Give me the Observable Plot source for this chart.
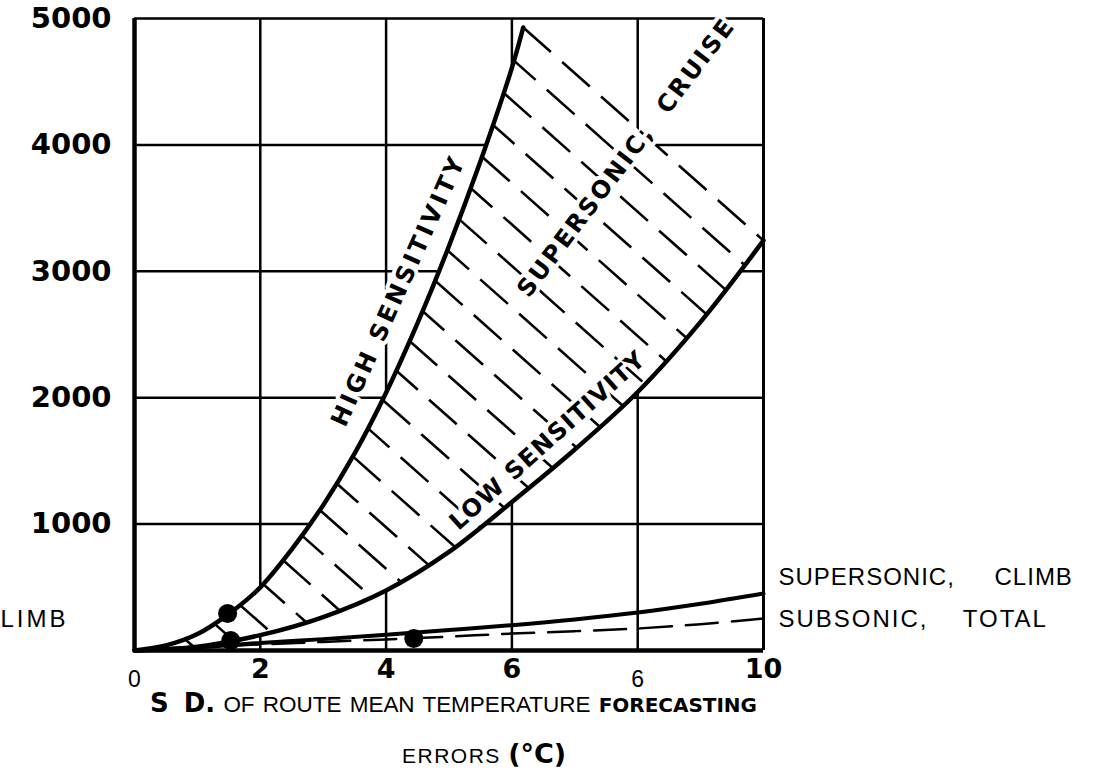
<!DOCTYPE html>
<html><head><meta charset="utf-8">
<script src="https://cdn.jsdelivr.net/npm/d3@7"></script>
<script src="https://cdn.jsdelivr.net/npm/@observablehq/plot@0.6"></script>
<style>body{margin:0;background:#fff;} svg text{white-space:pre;}</style>
</head><body><div id="chart"></div>
<script>
// ---- data ----
const xTicks = [0, 2, 4, 6, 8, 10];
const xTickLabels = ["0", "2", "4", "6", "6", "10"];
const yTicks = [1000, 2000, 3000, 4000, 5000];
const yTickLabels = ["1000", "2000", "3000", "4000", "5000"];
const gridX = [2, 4, 6, 8];
const gridY = [1000, 2000, 3000, 4000];

const highX = [0, 0.5, 1, 1.5, 2, 2.5, 3, 3.5, 4, 4.5, 5, 5.5, 6, 6.18];
const highY = [0, 40, 130, 290, 500, 800, 1150, 1560, 2040, 2590, 3200, 3870, 4610, 4929];
const lowX = [0, 1, 2, 3, 4, 5, 6, 7, 8, 9, 10];
const lowY = [0, 30, 122, 265, 475, 780, 1175, 1590, 2045, 2600, 3244];
const climbX = [0, 1, 2, 3, 4, 5, 6, 7, 8, 9, 10];
const climbY = [0, 25, 60, 90, 125, 162, 200, 245, 300, 370, 451];
const subX = [0, 1, 2, 3, 4, 5, 6, 7, 8, 9, 10];
const subY = [0, 25, 48, 68, 88, 110, 134, 153, 174, 208, 253];
const dotX = [1.48, 1.53, 4.44];
const dotY = [293, 79, 95];

const curveLabels = ["HIGH SENSITIVITY", "SUPERSONIC,  CRUISE", "LOW SENSITIVITY"];
const curveLabelX = [4.2, 7.82, 6.57];
const curveLabelY = [2848, 3900, 1661];
const curveLabelAngle = [-65.8, -52.8, -42];
const endLabels = ["SUPERSONIC, CLIMB", "SUBSONIC, TOTAL"];
const endLabelY = [577, 245];
const leftLabel = "LIMB";

// ---- layout ----
const W = 1095, H = 774, ML = 134, MR = 332, MT = 18, MB = 124;
const sx = d3.scaleLinear([0, 10], [ML, W - MR]);
const sy = d3.scaleLinear([0, 5000], [H - MB, MT]);

// ---- build tables ----
const zip = (xs, ys) => xs.map((x, i) => ({x, y: ys[i]}));
const high = zip(highX, highY);
const low = zip(lowX, lowY);
const climb = zip(climbX, climbY);
const sub = zip(subX, subY);
const dots = zip(dotX, dotY);
const poly = [...high, ...low.slice().reverse()];
const diag = [high[high.length - 1], low[low.length - 1]];
const curveAnno = curveLabels.map((t, i) => ({t, x: curveLabelX[i], y: curveLabelY[i], a: curveLabelAngle[i]}));
const endAnno = endLabels.map((t, i) => ({t, y: endLabelY[i]}));
const xt = xTicks.map((v, i) => ({v, t: xTickLabels[i], plain: i === 0 || i === 4}));

// hatch lines: parallel to the dashed upper boundary, clipped between the two curves
const toPx = p => [sx(p.x), sy(p.y)];
const A = toPx(diag[0]), B = toPx(diag[1]);
const len = Math.hypot(B[0] - A[0], B[1] - A[1]);
const u = [(B[0] - A[0]) / len, (B[1] - A[1]) / len];
const nrm = [-u[1], u[0]];
const proj = p => p[0] * nrm[0] + p[1] * nrm[1];
const highPx = high.map(toPx), lowPx = low.map(toPx);
function crossing(pl, d) {
  for (let i = 0; i < pl.length - 1; i++) {
    const f0 = proj(pl[i]) - d, f1 = proj(pl[i + 1]) - d;
    if (f0 === f1) continue;
    if ((f0 <= 0 && f1 >= 0) || (f0 >= 0 && f1 <= 0)) {
      const t = f0 / (f0 - f1);
      return [pl[i][0] + t * (pl[i + 1][0] - pl[i][0]), pl[i][1] + t * (pl[i + 1][1] - pl[i][1])];
    }
  }
  return null;
}
const spacing = 31;
const dStart = proj(A), dEnd = proj(toPx(high[0]));
const hatch = [];
for (let k = 0; dStart + k * spacing < dEnd - 4; k++) {
  const d = dStart + k * spacing;
  const p = crossing(highPx, d), q = crossing(lowPx, d);
  if (p && q) hatch.push({k, x1: sx.invert(p[0]), y1: sy.invert(p[1]), x2: sx.invert(q[0]), y2: sy.invert(q[1])});
}

const plot = Plot.plot({
  width: W, height: H,
  marginLeft: ML, marginRight: MR, marginTop: MT, marginBottom: MB,
  x: {domain: [0, 10], axis: null},
  y: {domain: [0, 5000], axis: null},
  style: {background: "white", fontFamily: "DejaVu Sans", color: "black"},
  marks: [
    Plot.ruleX(gridX, {stroke: "black", strokeWidth: 2.5}),
    Plot.ruleY(gridY, {stroke: "black", strokeWidth: 2.5}),
    Plot.line(poly, {x: "x", y: "y", fill: "white", stroke: "none"}),
    Plot.link(hatch.filter(d => d.k % 2 === 0), {x1: "x1", y1: "y1", x2: "x2", y2: "y2", stroke: "black",
      strokeWidth: 2.6, strokeDasharray: "37,15", strokeLinecap: "butt"}),
    Plot.link(hatch.filter(d => d.k % 2 === 1), {x1: "x1", y1: "y1", x2: "x2", y2: "y2", stroke: "black",
      strokeWidth: 2.6, strokeDasharray: "37,15", strokeDashoffset: 8, strokeLinecap: "butt"}),
    Plot.ruleX([0], {stroke: "black", strokeWidth: 4.5}),
    Plot.ruleX([10], {stroke: "black", strokeWidth: 3}),
    Plot.ruleY([0], {stroke: "black", strokeWidth: 4.5}),
    Plot.ruleY([5000], {stroke: "black", strokeWidth: 2.5}),
    Plot.text(curveAnno, {x: "x", y: "y", text: "t", rotate: "a", fontSize: 24, fontWeight: "bold",
      fill: "black", stroke: "white", strokeWidth: 8}),
    Plot.line(high, {x: "x", y: "y", curve: "catmull-rom", stroke: "black", strokeWidth: 4.5}),
    Plot.line(low, {x: "x", y: "y", curve: "catmull-rom", stroke: "black", strokeWidth: 4.5}),
    Plot.line(climb, {x: "x", y: "y", curve: "catmull-rom", stroke: "black", strokeWidth: 4}),
    Plot.line(sub, {x: "x", y: "y", curve: "catmull-rom", stroke: "black", strokeWidth: 2.5, strokeDasharray: "32,14"}),
    Plot.dot(dots, {x: "x", y: "y", r: 9.5, fill: "black"}),
    Plot.text(yTicks, {x: () => 0, y: d => d, text: (d, i) => yTickLabels[i], dx: -23, textAnchor: "end",
      lineAnchor: "middle", fontSize: 29, fontWeight: "bold"}),
    Plot.text(xt.filter(d => !d.plain), {x: "v", y: () => 0, text: "t", dy: 19, lineAnchor: "middle",
      fontSize: 27, fontWeight: "bold"}),
    Plot.text(xt.filter(d => d.plain), {x: "v", y: () => 0, text: "t", dy: 29, lineAnchor: "middle",
      fontSize: 23, fontFamily: "Liberation Sans"}),
    Plot.text(endAnno, {x: () => 10, y: "y", text: "t", dx: 15, textAnchor: "start", lineAnchor: "middle",
      fontSize: 24, fontFamily: "Liberation Sans"}),
    Plot.text([leftLabel], {x: () => 0, y: () => endLabelY[1], text: d => d, dx: -134, textAnchor: "start",
      lineAnchor: "middle", fontSize: 24, fontFamily: "Liberation Sans"})
  ]
});

document.getElementById("chart").append(plot);
const svg = d3.select(plot);
svg.selectAll("text").attr("xml:space", "preserve");
function styleText(str, attrs) {
  svg.selectAll("text").filter(function () { return this.textContent === str; })
    .each(function () { for (const k in attrs) this.setAttribute(k, attrs[k]); });
}
styleText(curveLabels[0], {"letter-spacing": "3.2px", "paint-order": "stroke"});
styleText(curveLabels[1], {"letter-spacing": "2.4px", "paint-order": "stroke"});
styleText(curveLabels[2], {"letter-spacing": "1.2px", "paint-order": "stroke"});
styleText(endLabels[0], {"letter-spacing": "1px", "word-spacing": "32px"});
styleText(endLabels[1], {"letter-spacing": "2px", "word-spacing": "26px"});
styleText(leftLabel, {"letter-spacing": "3px"});

// x-axis title (two lines)
const t1 = svg.append("text").attr("x", 150).attr("y", 712).attr("text-anchor", "start")
  .attr("xml:space", "preserve").attr("textLength", 607).attr("lengthAdjust", "spacing");
t1.append("tspan").attr("font-family", "DejaVu Sans").attr("font-weight", "bold").attr("font-size", 26)
  .attr("word-spacing", "6px").text("S D.");
t1.append("tspan").attr("font-family", "Liberation Sans").attr("font-size", 22.5)
  .attr("word-spacing", "2px").text(" OF ROUTE MEAN TEMPERATURE ");
t1.append("tspan").attr("font-family", "DejaVu Sans").attr("font-weight", "bold").attr("font-size", 20).text("FORECASTING");
const t2 = svg.append("text").attr("x", 402).attr("y", 763).attr("text-anchor", "start").attr("xml:space", "preserve");
t2.append("tspan").attr("font-family", "Liberation Sans").attr("font-size", 21).attr("letter-spacing", "1.5px").text("ERRORS ");
t2.append("tspan").attr("font-family", "DejaVu Sans").attr("font-weight", "bold").attr("font-size", 27).text("(°C)");
</script>
</body></html>
